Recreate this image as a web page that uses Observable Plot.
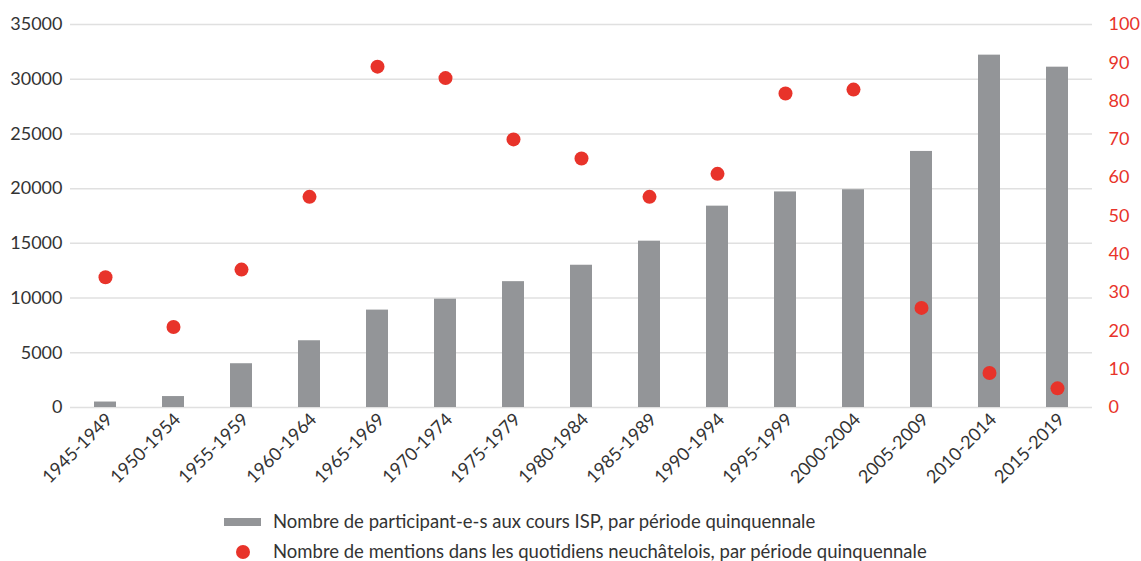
<!DOCTYPE html>
<html>
<head>
<meta charset="utf-8">
<script src="https://cdn.jsdelivr.net/npm/d3@7"></script>
<script src="https://cdn.jsdelivr.net/npm/@observablehq/plot@0.6"></script>
<style>
  body { margin: 0; background: #fff; font-family: Lato, "Open Sans", sans-serif; }
  #wrap { position: relative; width: 1141px; height: 561px; }
  .leg { position: absolute; left: 0; font-size: 18.5px; color: #333; white-space: nowrap; line-height: 24px; }
  .sw-bar { position: absolute; width: 37px; height: 8px; background: #939598; }
  .sw-dot { position: absolute; width: 14px; height: 14px; border-radius: 50%; background: #e8332a; }
</style>
</head>
<body>
<div id="wrap"></div>
<script>
const periods = ["1945-1949","1950-1954","1955-1959","1960-1964","1965-1969","1970-1974","1975-1979","1980-1984","1985-1989","1990-1994","1995-1999","2000-2004","2005-2009","2010-2014","2015-2019"];
const participants = [500, 1000, 4000, 6100, 8900, 9900, 11500, 13000, 15200, 18400, 19700, 19900, 23400, 32200, 31100];
const mentions = [34, 21, 36, 55, 89, 86, 70, 65, 55, 61, 82, 83, 26, 9, 5];
const leftTicks = [0, 5000, 10000, 15000, 20000, 25000, 30000, 35000];
const rightTicks = [0, 10, 20, 30, 40, 50, 60, 70, 80, 90, 100];
const legendLabels = ["Nombre de participant-e-s aux cours ISP, par période quinquennale", "Nombre de mentions dans les quotidiens neuchâtelois, par période quinquennale"];

const ratio = 35000 / 100;
const data = periods.map((p, i) => ({period: p, participants: participants[i], mentions: mentions[i]}));

const chart = Plot.plot({
  width: 1141,
  height: 490,
  marginLeft: 70,
  marginRight: 49,
  marginTop: 24,
  marginBottom: 83,
  style: {fontFamily: "Lato, 'Open Sans', sans-serif", background: "#fff"},
  x: {type: "band", domain: periods, padding: 0, axis: null},
  y: {domain: [0, 35000], axis: null},
  marks: [
    Plot.ruleY(leftTicks, {stroke: "#e0e0e0", strokeWidth: 1.5}),
    Plot.barY(data, {x: "period", y: "participants", fill: "#939598", insetLeft: 23, insetRight: 23}),
    Plot.dot(data, {x: "period", y: d => d.mentions * ratio, r: 7, fill: "#e8332a", stroke: "none"}),
    Plot.axisY({ticks: leftTicks, anchor: "left", label: null, tickSize: 0, tickPadding: 8, fontSize: 18, color: "#333", tickFormat: d => String(d)}),
    Plot.axisY({ticks: rightTicks.map(v => v * ratio), anchor: "right", label: null, tickSize: 0, tickPadding: 16, fontSize: 18, color: "#e8332a", tickFormat: d => String(Math.round(d / ratio))}),
    Plot.axisX({anchor: "bottom", label: null, tickRotate: -45, tickSize: 0, tickPadding: 9, dx: 4, fontSize: 18, color: "#333"})
  ]
});
const wrap = document.getElementById("wrap");
wrap.appendChild(chart);

const l1 = document.createElement("div");
l1.className = "leg"; l1.style.left = "273px"; l1.style.top = "509px"; l1.textContent = legendLabels[0];
const s1 = document.createElement("div"); s1.className = "sw-bar"; s1.style.left = "224px"; s1.style.top = "518px";
const l2 = document.createElement("div");
l2.className = "leg"; l2.style.left = "273px"; l2.style.top = "539px"; l2.textContent = legendLabels[1];
const s2 = document.createElement("div"); s2.className = "sw-dot"; s2.style.left = "236px"; s2.style.top = "545px";
wrap.append(s1, l1, s2, l2);
</script>
</body>
</html>
